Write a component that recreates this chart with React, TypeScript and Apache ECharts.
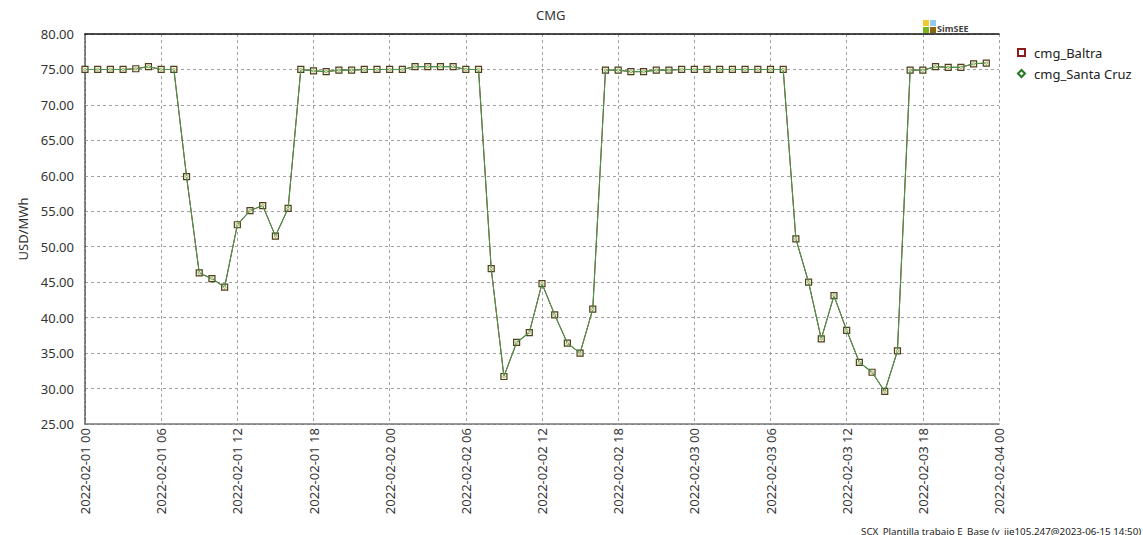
import React, { useEffect, useRef } from "react";
import * as echarts from "echarts";

// hours since 2022-02-01 00:00
const hours: number[] = Array.from({ length: 72 }, (_, i) => i);

const cmgBaltra: number[] = [
  75.0, 75.0, 75.0, 75.0, 75.1, 75.4, 75.0, 75.0,
  59.9, 46.3, 45.5, 44.3, 53.1, 55.1, 55.8, 51.5, 55.4,
  75.0, 74.8, 74.7, 74.9, 74.9, 75.0, 75.0, 75.0, 75.0,
  75.4, 75.4, 75.4, 75.4, 75.0, 75.0,
  46.9, 31.7, 36.5, 37.9, 44.8, 40.4, 36.4, 35.0, 41.2,
  74.9, 74.9, 74.7, 74.7, 74.9, 74.9,
  75.0, 75.0, 75.0, 75.0, 75.0, 75.0, 75.0, 75.0, 75.0,
  51.1, 45.0, 37.0, 43.1, 38.2, 33.7, 32.3, 29.6, 35.3,
  74.9, 74.9, 75.4, 75.3, 75.3, 75.8, 75.9,
];

const cmgSantaCruz: number[] = [
  75.0, 75.0, 75.0, 75.0, 75.1, 75.4, 75.0, 75.0,
  59.9, 46.3, 45.5, 44.3, 53.1, 55.1, 55.8, 51.5, 55.4,
  75.0, 74.8, 74.7, 74.9, 74.9, 75.0, 75.0, 75.0, 75.0,
  75.4, 75.4, 75.4, 75.4, 75.0, 75.0,
  46.9, 31.7, 36.5, 37.9, 44.8, 40.4, 36.4, 35.0, 41.2,
  74.9, 74.9, 74.7, 74.7, 74.9, 74.9,
  75.0, 75.0, 75.0, 75.0, 75.0, 75.0, 75.0, 75.0, 75.0,
  51.1, 45.0, 37.0, 43.1, 38.2, 33.7, 32.3, 29.6, 35.3,
  74.9, 74.9, 75.4, 75.3, 75.3, 75.8, 75.9,
];

const seriesNames: string[] = ["cmg_Baltra", "cmg_Santa Cruz"];
const startDay = "2022-02-";
const titleText = "CMG";
const yAxisName = "USD/MWh";
const footerText = "SCX_Plantilla trabajo E_Base (v_iie105.247@2023-06-15 14:50)";
const FONT = "'Noto Sans', 'Open Sans', sans-serif";

const pad2 = (n: number) => (n < 10 ? "0" + n : "" + n);
const hourLabel = (h: number) => {
  const day = 1 + Math.floor(h / 24);
  return `${startDay}${pad2(day)} ${pad2(h % 24)}`;
};

export default function App() {
  const ref = useRef<HTMLDivElement>(null);
  useEffect(() => {
    document.body.style.margin = "0";
    if (!ref.current) return;
    const chart = echarts.init(ref.current, null, { renderer: "svg" });
    const baltraData = hours.map((h, i) => [h, cmgBaltra[i]]);
    const santaData = hours.map((h, i) => [h, cmgSantaCruz[i]]);
    chart.setOption({
      animation: false,
      backgroundColor: "#ffffff",
      textStyle: { fontFamily: FONT },
      title: {
        text: titleText,
        left: 531,
        top: 3,
        textStyle: { fontSize: 13, fontWeight: "normal", color: "#333", fontFamily: FONT },
      },
      legend: {
        orient: "vertical",
        left: 1012,
        top: 40,
        itemWidth: 7,
        itemHeight: 7,
        itemGap: 6,
        textStyle: { fontSize: 13, color: "#222", fontFamily: FONT, padding: [0, 0, 0, 4], lineHeight: 15 },
        data: [
          { name: seriesNames[0], icon: "rect", itemStyle: { color: "#ffffff", borderColor: "#8b1a1a", borderWidth: 2 } },
          { name: seriesNames[1], icon: "diamond", itemStyle: { color: "#ffffff", borderColor: "#1f7a1f", borderWidth: 2 } },
        ],
      },
      grid: { left: 85, right: 144, top: 34, bottom: 111, containLabel: false },
      xAxis: [
        {
          type: "value",
          min: 0,
          max: 72,
          interval: 6,
          position: "bottom",
          axisLine: { show: true, onZero: false, lineStyle: { color: "#777", width: 1.5 } },
          axisTick: { show: false },
          axisLabel: {
            rotate: 90,
            margin: 4,
            fontSize: 13,
            color: "#333",
            fontFamily: FONT,
            formatter: (v: number) => hourLabel(v),
            showMinLabel: true,
            showMaxLabel: true,
          },
          splitLine: { show: true, lineStyle: { color: "#a0a0a0", type: [3, 3], width: 1 } },
        },
        {
          type: "value",
          min: 0,
          max: 72,
          position: "top",
          axisLine: { show: true, onZero: false, lineStyle: { color: "#111", width: 1.5 } },
          axisTick: { show: false },
          axisLabel: { show: false },
          splitLine: { show: false },
        },
      ],
      yAxis: [
        {
          type: "value",
          min: 25,
          max: 80,
          interval: 5,
          name: yAxisName,
          nameLocation: "middle",
          nameRotate: 90,
          nameGap: 56,
          nameTextStyle: { fontSize: 13, color: "#333", fontFamily: FONT },
          axisLine: { show: false },
          axisTick: { show: false },
          axisLabel: {
            margin: 11,
            fontSize: 13,
            color: "#333",
            fontFamily: FONT,
            formatter: (v: number) => v.toFixed(2),
          },
          splitLine: { show: true, lineStyle: { color: "#a0a0a0", type: [3, 3], width: 1 } },
        },
        {
          type: "value",
          min: 25,
          max: 80,
          position: "right",
          axisLine: { show: true, lineStyle: { color: "#555", type: [3, 1], width: 1.5 } },
          axisTick: { show: false },
          axisLabel: { show: false },
          splitLine: { show: false },
        },
      ],
      series: [
        {
          name: seriesNames[0],
          type: "line",
          z: 2,
          data: baltraData,
          symbol: "rect",
          symbolSize: 6,
          lineStyle: { color: "#8b1a1a", width: 1 },
          itemStyle: { color: "#f4f2d6", borderColor: "#4e3f1e", borderWidth: 1.2 },
          emphasis: { disabled: true },
        },
        {
          name: seriesNames[1],
          type: "line",
          z: 3,
          data: santaData,
          symbol: "diamond",
          symbolSize: 3,
          lineStyle: { color: "#489648", width: 1.1 },
          itemStyle: { color: "#dfe6c4", borderColor: "#5a7a3a", borderWidth: 0.5 },
          emphasis: { disabled: true },
        },
      ],
      graphic: [
        { type: "rect", left: 923, top: 20, shape: { width: 6, height: 6 }, style: { fill: "#f2c92e" } },
        { type: "rect", left: 930, top: 20, shape: { width: 6, height: 6 }, style: { fill: "#8ecaf2" } },
        { type: "rect", left: 923, top: 27, shape: { width: 6, height: 6 }, style: { fill: "#7ab51e" } },
        { type: "rect", left: 930, top: 27, shape: { width: 6, height: 6 }, style: { fill: "#8a6510" } },
        {
          type: "text",
          left: 937,
          top: 24,
          style: { text: "SimSEE", fontSize: 9, fontWeight: "bold", fill: "#444", fontFamily: FONT },
        },
        {
          type: "text",
          left: 861,
          top: 526,
          style: { text: footerText, fontSize: 9.8, fill: "#222", fontFamily: FONT },
        },
      ],
    });
    return () => chart.dispose();
  }, []);
  return <div ref={ref} style={{ width: 1143, height: 535 }} />;
}
